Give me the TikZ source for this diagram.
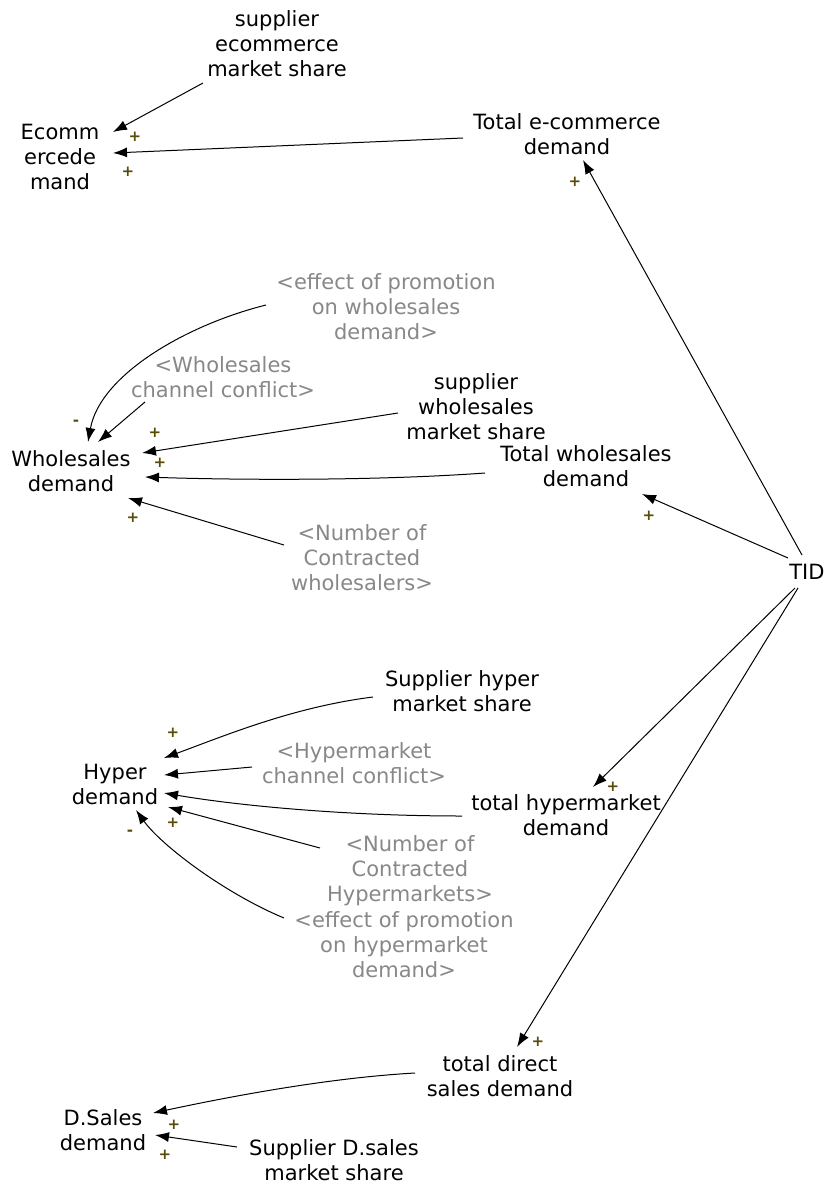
\documentclass[tikz,border=0pt]{standalone}
\usepackage{fontspec}
\setmainfont{DejaVu Sans}
\usepackage{xcolor}
\usetikzlibrary{arrows.meta,calc}
\definecolor{shadow-gray}{RGB}{136,136,136}
\definecolor{sign-olive}{RGB}{90,75,10}
\tikzset{
    var-box/.style = {align=center, inner sep=2pt, font=\fontsize{21}{25}\selectfont},
    shadow-box/.style = {var-box, text=shadow-gray},
    causal-link/.style = {-{Latex[length=14pt,width=10pt]}, line width=1pt},
    polarity/.style = {inner sep=0pt, text=sign-olive, font=\fontsize{15}{15}\selectfont\bfseries},
}

\begin{document}
\begin{tikzpicture}[x=1pt,y=-1pt]
\path[fill=white, use as bounding box] (0,0) rectangle (825,1184);

% e-commerce
\node[var-box] (ecom-share) at (277,44) {supplier\\ecommerce\\market share};
\node[var-box] (ecom-demand) at (60,157) {Ecomm\\ercede\\mand};
\node[var-box] (total-ecom) at (567,134) {Total e-commerce\\demand};
\node[var-box] (tid) at (807,572) {TID};

% wholesales
\node[shadow-box] (ws-promo) at (386,307) {<effect of promotion\\on wholesales\\demand>};
\node[shadow-box] (ws-conflict) at (223,377) {<Wholesales\\channel conflict>};
\node[var-box] (ws-share) at (476,407) {supplier\\wholesales\\market share};
\node[var-box] (ws-demand) at (71,471) {Wholesales\\demand};
\node[var-box] (total-ws) at (586,466) {Total wholesales\\demand};
\node[shadow-box] (ws-count) at (362,558) {<Number of\\Contracted\\wholesalers>};

% hypermarket
\node[var-box] (hyper-share) at (462,691) {Supplier hyper\\market share};
\node[var-box] (hyper-demand) at (115,784) {Hyper\\demand};
\node[shadow-box] (hyper-conflict) at (354,763) {<Hypermarket\\channel conflict>};
\node[var-box] (total-hyper) at (566,815) {total hypermarket\\demand};
\node[shadow-box] (hyper-count) at (410,871) {<Number of\\Contracted\\Hypermarkets>};
\node[shadow-box] (hyper-promo) at (404,945) {<effect of promotion\\on hypermarket\\demand>};

% direct sales
\node[var-box] (total-direct) at (500,1076) {total direct\\sales demand};
\node[var-box] (ds-demand) at (103,1130) {D.Sales\\demand};
\node[var-box] (ds-share) at (334,1160) {Supplier D.sales\\market share};

% links
\draw[causal-link] ($(ecom-share)+(-74,39)$) -- ($(ecom-demand)+(53,-25)$);
\draw[causal-link] ($(total-ecom)+(-104,4)$) -- ($(ecom-demand)+(53,-4)$);
\draw[causal-link] ($(tid)+(-5,-17)$) -- ($(total-ecom)+(16,26)$);

\draw[causal-link] ($(ws-promo)+(-120,-2)$) .. controls +(-80,20) and +(12,-67) .. ($(ws-demand)+(17,-29)$);
\draw[causal-link] ($(ws-conflict)+(-78,25)$) -- ($(ws-demand)+(27,-29)$);
\draw[causal-link] ($(ws-share)+(-78,6)$) -- ($(ws-demand)+(71,-18)$);
\draw[causal-link] ($(total-ws)+(-101,7)$) .. controls +(-110,8) and +(90,3) .. ($(ws-demand)+(74,6)$);
\draw[causal-link] ($(ws-count)+(-78,-13)$) -- ($(ws-demand)+(57,27)$);
\draw[causal-link] ($(tid)+(-19,-14)$) -- ($(total-ws)+(56,28)$);

\draw[causal-link] ($(hyper-share)+(-89,6)$) .. controls +(-80,10) and +(60,-22) .. ($(hyper-demand)+(49,-26)$);
\draw[causal-link] ($(hyper-conflict)+(-102,4)$) -- ($(hyper-demand)+(49,-9)$);
\draw[causal-link] ($(total-hyper)+(-104,1)$) .. controls +(-120,0) and +(70,12) .. ($(hyper-demand)+(49,9)$);
\draw[causal-link] ($(hyper-count)+(-90,-23)$) -- ($(hyper-demand)+(53,23)$);
\draw[causal-link] ($(hyper-promo)+(-120,-27)$) .. controls +(-60,-25) and +(25,35) .. ($(hyper-demand)+(21,26)$);
\draw[causal-link] ($(tid)+(-12,16)$) -- ($(total-hyper)+(27,-28)$);
\draw[causal-link] ($(tid)+(-9,16)$) -- ($(total-direct)+(17,-29)$);

\draw[causal-link] ($(total-direct)+(-85,-3)$) .. controls +(-90,5) and +(70,-15) .. ($(ds-demand)+(50,-17)$);
\draw[causal-link] ($(ds-share)+(-97,-13)$) -- ($(ds-demand)+(52,5)$);

% polarities
\foreach \x/\y/\s [count=\i] in {135/137/+, 128/172/+, 575/182/+, 76/423/-, 155/433/+,
    160/463/+, 133/518/+, 649/516/+, 173/733/+, 173/823/+, 130/833/-, 613/787/+,
    538/1042/+, 174/1125/+, 165/1155/+}
    \node[polarity] (sign-\i) at (\x,\y) {\s};
\end{tikzpicture}
\end{document}
